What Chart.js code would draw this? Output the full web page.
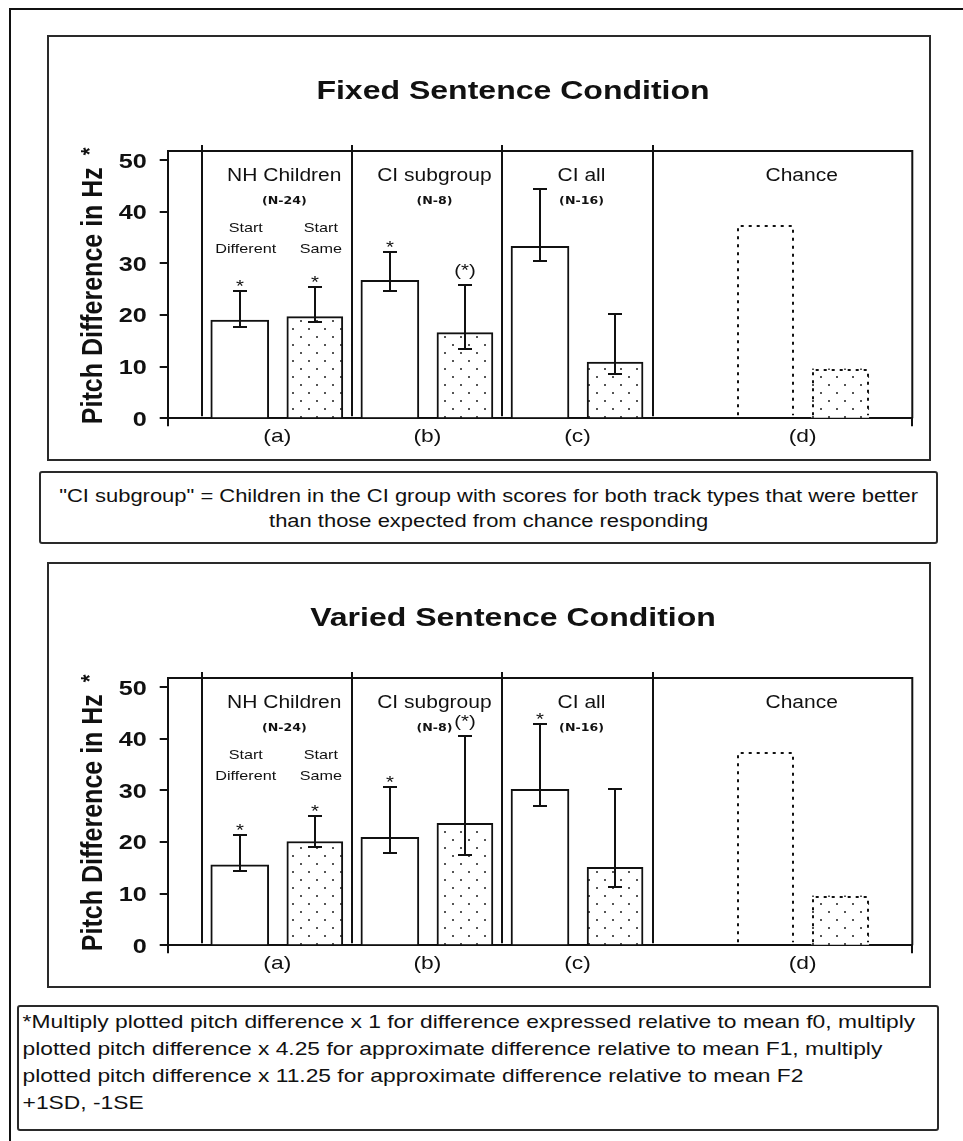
<!DOCTYPE html>
<html>
<head>
<meta charset="utf-8">
<script src="https://cdn.jsdelivr.net/npm/chart.js@4.4.1/dist/chart.umd.min.js"></script>
<style>
  body { margin: 0; background: #fff; width: 963px; height: 1141px; overflow: hidden; position: relative;
         font-family: "Liberation Sans", Arial, sans-serif; color: #111; }
  #frame { position: absolute; left: 9px; top: 8px; width: 1000px; height: 1200px; border: 2px solid #111; }
  .panel { position: absolute; left: 47px; width: 880px; height: 422px; border: 2px solid #2a2a2a; background: #fff; }
  .panel canvas { display: block; }
  .note { position: absolute; border: 2px solid #2a2a2a; border-radius: 3px; background: #fff; white-space: nowrap; }
  .note .txt { transform: scaleX(1.2); transform-origin: 0 0; }
  #note1 { left: 39px; top: 471px; width: 895px; height: 69px; font-size: 18.3px; }
  #note1 .txt { width: 746px; text-align: center; line-height: 25px; padding-top: 10px; }
  #note2 { left: 17px; top: 1005px; width: 918px; height: 122px; font-size: 19px; }
  #note2 .txt { padding-left: 3px; line-height: 27px; padding-top: 1px; }
</style>
</head>
<body>
<div id="frame"></div>
<div class="panel" style="top:35px"><canvas id="fixed" width="880" height="422"></canvas></div>
<div class="note" id="note1"><div class="txt">"CI subgroup" = Children in the CI group with scores for both track types that were better<br>than those expected from chance responding</div></div>
<div class="panel" style="top:562px"><canvas id="varied" width="880" height="422"></canvas></div>
<div class="note" id="note2"><div class="txt">*Multiply plotted pitch difference x 1 for difference expressed relative to mean f0, multiply<br>plotted pitch difference x 4.25 for approximate difference relative to mean F1, multiply<br>plotted pitch difference x 11.25 for approximate difference relative to mean F2<br>+1SD, -1SE</div></div>
<script>
// groups along the x axis
const groupLabels = ['(a)', '(b)', '(c)', '(d)'];
const groupNames = ['NH Children', 'CI subgroup', 'CI all', 'Chance'];
const groupSizes = ['(N-24)', '(N-8)', '(N-16)', ''];
const yTicks = [0, 10, 20, 30, 40, 50];

// fixed sentences: means, +1SD, -1SE, significance marks
const fixedDiff = [19.0, 26.7, 33.3];
const fixedDiffSD = [5.7, 5.4, 11.1];
const fixedDiffSE = [1.3, 2.0, 2.8];
const fixedDiffSig = ['*', '*', ''];
const fixedSame = [19.7, 16.6, 10.9];
const fixedSameSD = [5.8, 9.2, 9.3];
const fixedSameSE = [1.1, 3.1, 2.4];
const fixedSameSig = ['*', '(*)', ''];

// varied sentences
const variedDiff = [15.6, 20.9, 30.2];
const variedDiffSD = [5.8, 9.7, 12.7];
const variedDiffSE = [1.3, 3.1, 3.2];
const variedDiffSig = ['*', '*', '*'];
const variedSame = [20.1, 23.6, 15.1];
const variedSameSD = [5.0, 16.9, 15.1];
const variedSameSE = [1.1, 6.1, 3.8];
const variedSameSig = ['*', '(*)', ''];

// chance level (start different, start same)
const chance = [37.5, 9.6];

const STRETCH = 1.2;   // text is drawn a bit wide
const INK = '#111';
const SANS = '"Liberation Sans", Arial, sans-serif';
const SMALL = '"DejaVu Sans", sans-serif';

function stretchText(ctx, text, x, y, font, align) {
    ctx.save();
    ctx.font = font;
    ctx.textAlign = align;
    ctx.textBaseline = 'alphabetic';
    ctx.translate(x, y);
    ctx.scale(STRETCH, 1);
    ctx.fillText(text, 0, 0);
    ctx.restore();
}

// grey dot fill for the "start same" bars
function makeDots(ctx) {
    const tile = document.createElement('canvas');
    tile.width = 16;
    tile.height = 16;
    const g = tile.getContext('2d');
    g.fillStyle = '#fff';
    g.fillRect(0, 0, 16, 16);
    g.fillStyle = '#555';
    g.fillRect(3, 3, 2, 2);
    g.fillRect(11, 11, 2, 2);
    return ctx.createPattern(tile, 'repeat');
}

function buildPanel(canvasId, title, diff, diffSD, diffSE, diffSig, same, sameSD, sameSE, sameSig) {
    const ctx = document.getElementById(canvasId).getContext('2d');
    const dots = makeDots(ctx);
    const groupCenter = [1.5, 3.5, 5.5, 8.5];
    const nameShift = [7, 7, 4, -1];

    const decor = {
        id: 'decor',
        afterDraw(chart) {
            const c = chart.ctx;
            const a = chart.chartArea;
            const x = chart.scales.x;
            const y = chart.scales.y;
            const zero = y.getPixelForValue(0);
            c.save();
            c.strokeStyle = INK;
            c.fillStyle = INK;
            c.lineWidth = 2;

            // top and right edge of the plot box
            c.beginPath();
            c.moveTo(a.left, a.top);
            c.lineTo(a.right, a.top);
            c.lineTo(a.right, zero);
            c.stroke();

            // group dividers
            [0.5, 2.5, 4.5, 6.5].forEach(v => {
                const px = Math.round(x.getPixelForValue(v));
                c.beginPath();
                c.moveTo(px, a.top - 6);
                c.lineTo(px, zero - 2);
                c.stroke();
            });

            // error bars (+1SD / -1SE) with significance marks
            const series = [[diff, diffSD, diffSE, diffSig], [same, sameSD, sameSE, sameSig]];
            series.forEach(([vals, sd, se, sig], d) => {
                chart.getDatasetMeta(d).data.forEach((bar, i) => {
                    const hi = Math.round(y.getPixelForValue(vals[i] + sd[i]));
                    const lo = Math.round(y.getPixelForValue(vals[i] - se[i]));
                    const bx = Math.round(bar.x);
                    c.beginPath();
                    c.moveTo(bx, hi); c.lineTo(bx, lo);
                    c.moveTo(bx - 7, hi); c.lineTo(bx + 7, hi);
                    c.moveTo(bx - 7, lo); c.lineTo(bx + 7, lo);
                    c.stroke();
                    if (sig[i]) {
                        stretchText(c, sig[i], bx, sig[i] === '*' ? hi + 1 : hi - 9, '17px ' + SANS, 'center');
                    }
                });
            });

            // chance bars: dashed outline, open at the base
            c.setLineDash([3, 5]);
            chart.getDatasetMeta(2).data.forEach(bar => {
                const l = Math.round(bar.x - bar.width / 2) + 1;
                const r = Math.round(bar.x + bar.width / 2) - 1;
                const t = Math.round(bar.y) + 1;
                c.beginPath();
                c.moveTo(l, zero - 3);
                c.lineTo(l, t);
                c.lineTo(r, t);
                c.lineTo(r, zero - 3);
                c.stroke();
            });
            c.setLineDash([]);

            // panel title
            stretchText(c, title, chart.width / 2 + 24, a.top - 52.5, 'bold 26.7px ' + SANS, 'center');

            // group headings
            groupNames.forEach((name, i) => {
                const gx = x.getPixelForValue(groupCenter[i]) + nameShift[i];
                stretchText(c, name, gx, a.top + 30.3, '17.5px ' + SANS, 'center');
                if (groupSizes[i]) {
                    stretchText(c, groupSizes[i], gx, a.top + 52.5, 'bold 10.5px ' + SMALL, 'center');
                }
                stretchText(c, groupLabels[i], x.getPixelForValue(groupCenter[i]), zero + 24, '19px ' + SANS, 'center');
            });

            // track type names over the NH bars
            [0, 1].forEach(d => {
                const bar = chart.getDatasetMeta(d).data[0];
                const words = chart.data.datasets[d].label.split(' ');
                stretchText(c, words[0], bar.x + 6, a.top + 80.7, '13.5px ' + SANS, 'center');
                stretchText(c, words[1], bar.x + 6, a.top + 102.3, '13.5px ' + SANS, 'center');
            });

            // y tick labels
            y.ticks.forEach(t => {
                stretchText(c, String(t.value), a.left - 21, y.getPixelForValue(t.value) + 7.5, 'bold 21px ' + SANS, 'right');
            });

            // y axis title with footnote star
            c.translate(a.left - 66, (a.top + a.bottom) / 2 + 11);
            c.scale(STRETCH, 1);
            c.rotate(-Math.PI / 2);
            c.font = 'bold 25px ' + SANS;
            c.textAlign = 'center';
            c.textBaseline = 'alphabetic';
            const axisTitle = 'Pitch Difference in Hz';
            c.fillText(axisTitle, 0, 0);
            const w = c.measureText(axisTitle).width;
            c.font = 'bold 20px ' + SANS;
            c.textAlign = 'left';
            c.fillText('*', w / 2 + 12, -3);
            c.restore();
        }
    };

    return new Chart(ctx, {
        type: 'bar',
        data: {
            datasets: [{
                label: 'Start Different',
                data: diff.map((v, i) => ({ x: groupCenter[i] - 0.5, y: v })),
                backgroundColor: '#fff',
                borderColor: INK,
                borderWidth: 2,
                barThickness: 58,
                grouped: false
            }, {
                label: 'Start Same',
                data: same.map((v, i) => ({ x: groupCenter[i] + 0.5, y: v })),
                backgroundColor: dots,
                borderColor: INK,
                borderWidth: 2,
                barThickness: 56,
                grouped: false
            }, {
                label: 'Chance',
                data: chance.map((v, i) => ({ x: groupCenter[3] + (i ? 0.5 : -0.5), y: v })),
                backgroundColor: ['rgba(255,255,255,0)', dots],
                borderWidth: 0,
                barThickness: 57,
                grouped: false
            }]
        },
        options: {
            responsive: false,
            animation: false,
            devicePixelRatio: 1,
            events: [],
            layout: { padding: { top: 114, right: 16.7, left: 0, bottom: 0 } },
            plugins: {
                legend: { display: false },
                title: { display: false },
                tooltip: { enabled: false }
            },
            scales: {
                x: {
                    type: 'linear',
                    min: 0.04,
                    max: 9.96,
                    offset: false,
                    afterBuildTicks: s => { s.ticks = [{ value: s.min }, { value: s.max }]; },
                    afterFit: s => { s.height = 40.7; },
                    ticks: { display: false },
                    grid: { drawOnChartArea: false, offset: false, color: INK, lineWidth: 2, tickLength: 8 },
                    border: { color: INK, width: 2 }
                },
                y: {
                    min: 0,
                    max: 51.75,
                    ticks: { display: false },
                    afterBuildTicks: s => { s.ticks = yTicks.map(v => ({ value: v })); },
                    afterFit: s => { s.width = 118.7; },
                    grid: { drawOnChartArea: false, color: INK, lineWidth: 2, tickLength: 8 },
                    border: { color: INK, width: 2 }
                }
            }
        },
        plugins: [decor]
    });
}

buildPanel('fixed', 'Fixed Sentence Condition',
    fixedDiff, fixedDiffSD, fixedDiffSE, fixedDiffSig,
    fixedSame, fixedSameSD, fixedSameSE, fixedSameSig);
buildPanel('varied', 'Varied Sentence Condition',
    variedDiff, variedDiffSD, variedDiffSE, variedDiffSig,
    variedSame, variedSameSD, variedSameSE, variedSameSig);
</script>
</body>
</html>
